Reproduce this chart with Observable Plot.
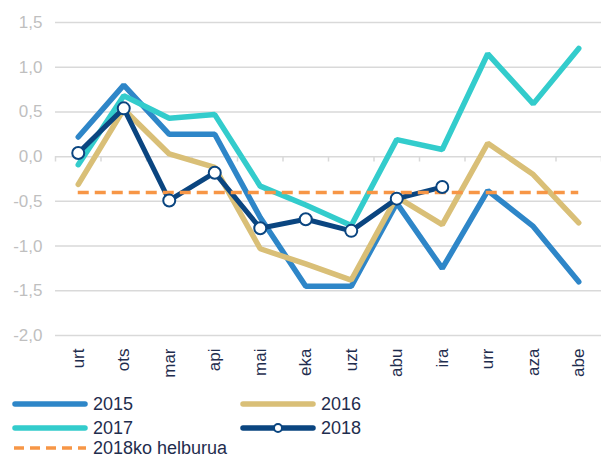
<!DOCTYPE html>
<html>
<head>
<meta charset="utf-8">
<script src="https://cdn.jsdelivr.net/npm/d3@7"></script>
<script src="https://cdn.jsdelivr.net/npm/@observablehq/plot@0.6"></script>
<style>
  html, body { margin: 0; padding: 0; background: #fff; }
  #wrap { position: relative; width: 601px; height: 459px; overflow: hidden; font-family: "Liberation Sans", Arial, sans-serif; }
  .leg { position: absolute; display: flex; align-items: center; color: #1f2d4e; font-size: 18px; line-height: 16px; height: 16px; }
  .leg svg { margin-right: 5px; }
</style>
</head>
<body>
<div id="wrap"></div>
<script>
const months = ["urt","ots","mar","api","mai","eka","uzt","abu","ira","urr","aza","abe"];
const v2015 = [0.22, 0.80, 0.25, 0.25, -0.68, -1.45, -1.45, -0.52, -1.25, -0.38, -0.78, -1.40];
const v2016 = [-0.31, 0.53, 0.03, -0.12, -1.03, -1.20, -1.38, -0.45, -0.76, 0.15, -0.20, -0.74];
const v2017 = [-0.09, 0.68, 0.43, 0.47, -0.33, -0.54, -0.77, 0.19, 0.08, 1.15, 0.59, 1.21];
const v2018 = [0.04, 0.54, -0.49, -0.18, -0.80, -0.70, -0.83, -0.47, -0.34];
const target = -0.4;
const yTicks = [-2, -1.5, -1, -0.5, 0, 0.5, 1, 1.5];

const seriesNames = ["2015", "2016", "2017", "2018"];
const seriesValues = [v2015, v2016, v2017, v2018];
const colors = {"2015": "#2e86c8", "2016": "#d9bf77", "2017": "#33cccc", "2018": "#0a4580"};
const targetColor = "#f79646";

const rows = seriesNames.flatMap((s, k) => seriesValues[k].map((v, i) => ({series: s, i, v})));
const rows2018 = rows.filter(d => d.series === "2018");
const boundaries = d3.range(months.length + 1).map(i => i - 0.5);
const fmt = d => d.toFixed(1).replace(".", ",");

const chart = Plot.plot({
  width: 601,
  height: 392,
  marginLeft: 55,
  marginRight: 0,
  marginTop: 22,
  marginBottom: 57,
  style: {fontFamily: "'Liberation Sans', Arial, sans-serif", background: "transparent"},
  x: {type: "linear", domain: [-0.5, months.length - 0.5]},
  y: {domain: [-2, 1.5]},
  marks: [
    Plot.gridY(yTicks, {stroke: "#d9d9d9", strokeOpacity: 1, strokeWidth: 1.5}),
    Plot.ruleX(boundaries, {x: d => d, y1: 0, y2: -0.06, stroke: "#d9d9d9", strokeWidth: 1.5}),
    Plot.axisY(yTicks, {tickSize: 0, tickPadding: 13, tickFormat: fmt, fontSize: 17, fill: "#bfbfbf", label: null}),
    Plot.axisX(d3.range(months.length), {anchor: "bottom", tickSize: 0, tickPadding: 13, tickRotate: -90, tickFormat: i => months[i], fontSize: 17, fill: "#1f2d4e", label: null}),
    Plot.line(rows.filter(d => d.series !== "2018"), {x: "i", y: "v", z: "series", stroke: d => colors[d.series], strokeWidth: 5.5, strokeLinejoin: "miter", strokeLinecap: "round"}),
    Plot.line(rows2018, {x: "i", y: "v", stroke: colors["2018"], strokeWidth: 5, strokeLinejoin: "miter"}),
    Plot.ruleY([target], {x1: 0, x2: months.length - 1, stroke: targetColor, strokeWidth: 3.5, strokeDasharray: "11,6"}),
    Plot.dot(rows2018, {x: "i", y: "v", r: 6, fill: "#fff", stroke: colors["2018"], strokeWidth: 2})
  ]
});
const wrap = document.getElementById("wrap");
wrap.appendChild(chart);

function icon(name) {
  if (name === "target") {
    return `<svg width="76" height="12"><line x1="2" y1="6" x2="74" y2="6" stroke="${targetColor}" stroke-width="3.5" stroke-dasharray="10,6"/></svg>`;
  }
  const c = colors[name];
  let s = `<svg width="76" height="12"><line x1="3" y1="6" x2="73" y2="6" stroke="${c}" stroke-width="5.5" stroke-linecap="round"/>`;
  if (name === "2018") s += `<circle cx="38" cy="6" r="4" fill="#fff" stroke="${c}" stroke-width="2"/>`;
  return s + `</svg>`;
}
const legendItems = [
  {name: "2015", label: "2015", left: 12, top: 396},
  {name: "2016", label: "2016", left: 240, top: 396},
  {name: "2017", label: "2017", left: 12, top: 420},
  {name: "2018", label: "2018", left: 240, top: 420},
  {name: "target", label: "2018ko helburua", left: 12, top: 440}
];
for (const it of legendItems) {
  const d = document.createElement("div");
  d.className = "leg";
  d.style.left = it.left + "px";
  d.style.top = it.top + "px";
  d.innerHTML = icon(it.name) + `<span>${it.label}</span>`;
  wrap.appendChild(d);
}
</script>
</body>
</html>
